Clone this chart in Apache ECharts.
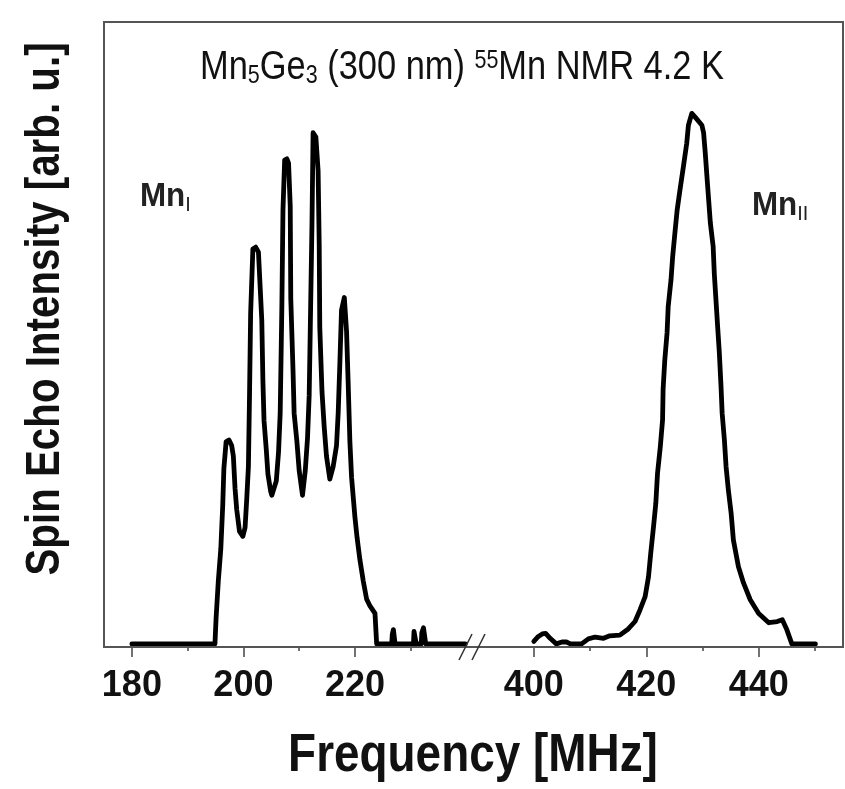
<!DOCTYPE html>
<html><head><meta charset="utf-8">
<script src="https://cdn.jsdelivr.net/npm/echarts@6/dist/echarts.min.js"></script>
<style>html,body{margin:0;padding:0;background:#fff}#c{width:845px;height:789px}</style>
</head><body><div id="c"></div>
<script>
// ---- data (frequency in MHz, spin echo intensity in arb. units) ----
const freqLeft = [180,194.9,195.1,195.5,195.95,196.3,196.5,196.9,197.4,197.9,198.2,198.5,198.8,199.3,199.9,200.3,200.6,200.9,201.1,201.3,201.7,202.2,202.7,203.3,203.5,203.7,204.1,204.4,204.9,205.1,205.9,206.3,206.6,206.9,207.1,207.4,207.8,208.1,208.4,208.5,208.9,209.1,209.6,210.0,210.6,211.1,211.5,211.8,212.0,212.3,212.5,213.0,213.4,213.6,213.7,214.1,214.5,214.9,215.5,216.1,216.7,217.0,217.3,217.6,218.1,218.5,218.8,219.1,219.4,220.0,220.4,220.9,221.5,222.1,222.7,223.6,223.9,226.6,226.7,226.9,227.1,227.2,230.5,230.6,230.9,231.0,231.9,232.0,232.3,232.6,232.7,239.8];
const intLeft  = [0,0,4.1,10.1,15.3,22.4,28.2,32.5,32.8,31.9,30.2,25.0,21.6,18.1,17.3,18.7,23.3,28.5,40.0,53.2,63.5,63.8,63.0,52.0,42.3,35.9,31.3,27.3,24.5,23.9,26.2,30.8,37.1,54.3,69.8,77.8,78.0,77.3,70.4,55.5,44.0,37.1,32.5,27.9,23.9,27.9,33.1,40.0,50.9,67.5,82.2,81.5,76.1,64.1,50.9,40.5,34.8,30.2,26.5,28.5,31.9,37.1,45.1,53.7,55.7,50.3,41.7,32.5,26.8,20.4,17.0,13.5,10.1,7.2,6.1,4.9,0,0,1.5,2.3,2.2,0,0,2.0,2.0,0,0,1.8,2.6,2.6,0,0];
const freqRight = [400.0,400.8,401.5,402.1,402.9,404.0,405.0,405.8,406.5,408.5,409.7,410.9,412.4,413.5,415.3,416.8,418.0,418.9,419.8,420.4,420.8,421.3,421.7,422.0,422.5,422.9,423.0,423.3,423.7,423.9,424.4,424.7,425.1,425.5,426.0,426.6,427.2,427.5,428.1,428.7,429.9,430.2,430.5,430.8,431.1,431.4,431.9,432.1,432.4,432.7,433.0,433.3,433.5,433.9,434.2,434.6,435.1,435.5,436.4,437.3,438.5,440.0,441.8,443.3,444.2,445.0,445.9,450.1];
const intRight  = [0.4,1.2,1.6,1.7,0.9,0,0.3,0.3,0,0,0.8,1.1,0.9,1.3,1.4,2.4,3.6,5.5,7.6,10.8,14.6,18.9,22.6,27.4,31.7,36.0,41.0,45.7,50.0,54.2,58.5,62.3,66.1,69.8,73.0,76.7,80.5,83.4,85.3,84.7,83.4,82.2,78.9,75.1,71.4,67.7,63.9,59.6,55.3,51.0,46.8,41.4,37.1,32.8,28.5,24.8,21.0,16.7,12.4,9.8,7.1,4.9,3.4,3.6,3.9,2.3,0,0];
const leftMajorTicks = [180,200,220];
const leftMinorTicks = [190,210,230];
const rightMajorTicks = [400,420,440];
const rightMinorTicks = [410,430,450];
const titleText = 'Mn{s|5}Ge{s|3} (300 nm) {p|55}Mn NMR 4.2 K';
const xTitle = 'Frequency [MHz]';
const yTitle = 'Spin Echo Intensity [arb. u.]';
const label1 = 'Mn{s|I}';
const label2 = 'Mn{s|II}';

const SANS = "'Liberation Sans',Arial,sans-serif";
const AX = '#444';

function pairs(xs, ys){ return xs.map((x,i)=>[x, ys[i]]); }

function majorAxis(grid, min, max, ticks){
  return {type:'value', gridIndex:grid, min:min, max:max, position:'bottom',
    axisLine:{show:true, onZero:false, lineStyle:{color:AX, width:1.5}},
    axisTick:{show:true, inside:false, customValues:ticks, length:10, lineStyle:{color:AX, width:1.5}},
    axisLabel:{show:true, customValues:ticks, margin:21, color:'#111', fontSize:36, fontWeight:'bold', fontFamily:SANS},
    splitLine:{show:false}};
}
function minorAxis(grid, min, max, ticks){
  return {type:'value', gridIndex:grid, min:min, max:max, position:'bottom',
    axisLine:{show:false, onZero:false},
    axisTick:{show:true, inside:false, customValues:ticks, length:4, lineStyle:{color:AX, width:1.5}},
    axisLabel:{show:false}, splitLine:{show:false}};
}

const chart = echarts.init(document.getElementById('c'), null, {renderer:'canvas'});
chart.setOption({
  backgroundColor:'#fff',
  animation:false,
  grid:[
    {left:104, top:22, width:368, height:625},
    {left:472, top:22, width:371, height:625}
  ],
  xAxis:[
    majorAxis(0,175,241,leftMajorTicks),
    minorAxis(0,175,241,leftMinorTicks),
    majorAxis(1,389,455,rightMajorTicks),
    minorAxis(1,389,455,rightMinorTicks)
  ],
  yAxis:[
    {type:'value', gridIndex:0, min:-0.5, max:100, show:false},
    {type:'value', gridIndex:1, min:-0.5, max:100, show:false}
  ],
  series:[
    {type:'line', xAxisIndex:0, yAxisIndex:0, data:pairs(freqLeft,intLeft), showSymbol:false, symbol:'none',
     lineStyle:{color:'#000', width:4.8, join:'round', cap:'round'}},
    {type:'line', xAxisIndex:2, yAxisIndex:1, data:pairs(freqRight,intRight), showSymbol:false, symbol:'none',
     lineStyle:{color:'#000', width:4.8, join:'round', cap:'round'}}
  ],
  graphic:[
    {type:'rect', z:10, silent:true, shape:{x:104,y:22,width:739,height:625}, style:{fill:null, stroke:'#555', lineWidth:2}},
    {type:'line', z:11, shape:{x1:459,y1:660,x2:472,y2:634}, style:{stroke:'#333', lineWidth:1.5}},
    {type:'line', z:11, shape:{x1:472,y1:660,x2:485,y2:634}, style:{stroke:'#333', lineWidth:1.5}},
    {type:'text', z:12, x:462, y:68, scaleX:0.86, style:{text:titleText, align:'center', verticalAlign:'middle',
      fill:'#111', fontSize:40, fontFamily:SANS,
      rich:{s:{fontSize:25, fontFamily:SANS, fill:'#111', padding:[16,0,0,0]}, p:{fontSize:25, fontFamily:SANS, fill:'#111', padding:[0,0,14,0]}}}},
    {type:'text', z:12, x:140, y:197, scaleX:0.95, style:{text:label1, align:'left', verticalAlign:'middle',
      fill:'#222', fontSize:33, fontWeight:'bold', fontFamily:SANS,
      rich:{s:{fontSize:21, fill:'#222', fontFamily:SANS, padding:[17,0,0,0]}}}},
    {type:'text', z:12, x:752, y:206, scaleX:0.95, style:{text:label2, align:'left', verticalAlign:'middle',
      fill:'#222', fontSize:33, fontWeight:'bold', fontFamily:SANS,
      rich:{s:{fontSize:21, fill:'#222', fontFamily:SANS, padding:[17,0,0,0]}}}},
    {type:'text', z:12, x:473, y:756, scaleX:0.85, style:{text:xTitle, align:'center', verticalAlign:'middle',
      fill:'#111', fontSize:54, fontWeight:'bold', fontFamily:SANS}},
    {type:'text', z:12, x:46, y:309, rotation:Math.PI/2, scaleX:0.84, style:{text:yTitle, align:'center', verticalAlign:'middle',
      fill:'#111', fontSize:48, fontWeight:'bold', fontFamily:SANS}}
  ]
});
</script>
</body></html>
